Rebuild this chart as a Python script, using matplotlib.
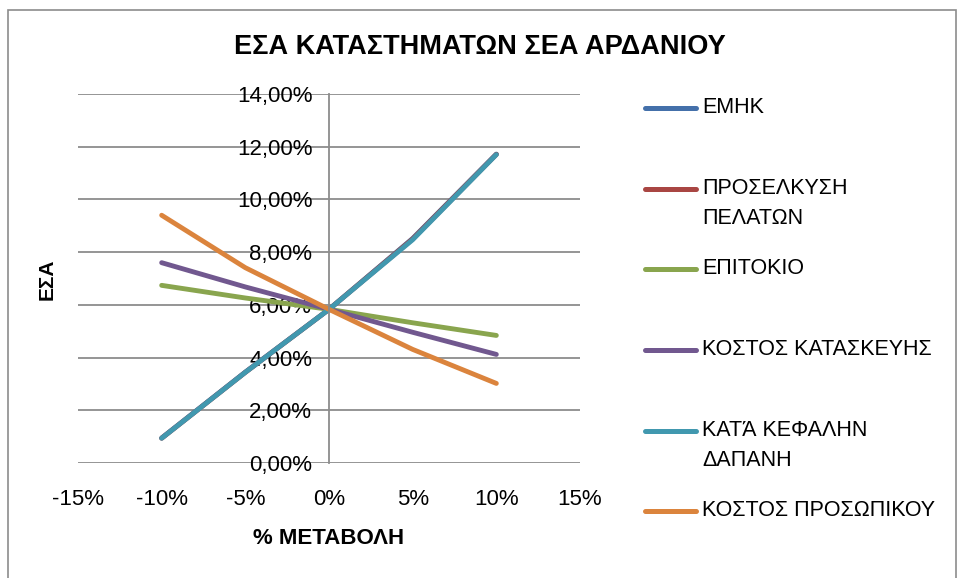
import matplotlib.pyplot as plt
from matplotlib.lines import Line2D
from matplotlib.patches import Rectangle
from matplotlib.ticker import FuncFormatter

plt.rcParams['font.family'] = ['Liberation Sans', 'DejaVu Sans']

# Δεδομένα
metavoli = [-10, -5, 0, 5, 10]
seires = ['ΕΜΗΚ', 'ΠΡΟΣΕΛΚΥΣΗ\nΠΕΛΑΤΩΝ', 'ΕΠΙΤΟΚΙΟ', 'ΚΟΣΤΟΣ ΚΑΤΑΣΚΕΥΗΣ',
          'ΚΑΤΆ ΚΕΦΑΛΗΝ\nΔΑΠΑΝΗ', 'ΚΟΣΤΟΣ ΠΡΟΣΩΠΙΚΟΥ']
emhk = [0.95, 3.45, 5.83, 8.52, 11.72]
proselkysi = [0.94, 3.44, 5.83, 8.50, 11.71]
epitokio = [6.74, 6.26, 5.83, 5.32, 4.84]
kostos_kat = [7.60, 6.68, 5.83, 4.96, 4.12]
kat_kefalin = [0.94, 3.44, 5.83, 8.47, 11.70]
kostos_pros = [9.40, 7.41, 5.83, 4.31, 3.02]
xticks = [-15, -10, -5, 0, 5, 10, 15]
yticks = [0, 2, 4, 6, 8, 10, 12, 14]

times = [emhk, proselkysi, epitokio, kostos_kat, kat_kefalin, kostos_pros]
xromata = ['#4470AA', '#A94643', '#89A54E', '#71588F', '#4198AF', '#DB843D']

fig = plt.figure(figsize=(9.59, 5.78), dpi=100)
fig.patches.append(Rectangle((8 / 959, -0.1), 948 / 959, 1.1 - 10 / 578,
                             transform=fig.transFigure, fill=False,
                             edgecolor='#8C8C8C', lw=1.2))
ax = fig.add_axes([78 / 959, 115 / 578, 502 / 959, 369 / 578])

for y, c in zip(times, xromata):
    ax.plot(metavoli, y, color=c, lw=3.5, solid_capstyle='round')

ax.set_xlim(-15, 15)
ax.set_ylim(0, 14)
ax.set_xticks(xticks)
ax.set_yticks(yticks)
ax.xaxis.set_major_formatter(FuncFormatter(lambda v, p: f'{v:.0f}%'))
ax.yaxis.set_major_formatter(FuncFormatter(lambda v, p: f'{v:.2f}%'.replace('.', ',')))
ax.grid(axis='y', color='#8C8C8C', lw=1.3)
ax.set_axisbelow(True)
for s in ['top', 'right', 'bottom']:
    ax.spines[s].set_visible(False)
ax.spines['left'].set_position(('data', 0))
ax.spines['left'].set_color('#8C8C8C')
ax.spines['left'].set_linewidth(1.3)
ax.tick_params(axis='both', length=0, labelsize=16)
ax.tick_params(axis='x', pad=19)
ax.tick_params(axis='y', pad=12)

fig.text(0.5, 1 - 47 / 578, 'ΕΣΑ ΚΑΤΑΣΤΗΜΑΤΩΝ ΣΕΑ ΑΡΔΑΝΙΟΥ', ha='center', va='center',
         fontsize=19.5, fontweight='bold')
fig.text(329 / 959, 1 - 539 / 578, '% ΜΕΤΑΒΟΛΗ', ha='center', va='center',
         fontsize=16, fontweight='bold')
fig.text(47 / 959, 1 - 279 / 578, 'ΕΣΑ', ha='center', va='center', rotation=90,
         fontsize=15, fontweight='bold')

# υπόμνημα
leg_y = [108, 189, 269, 350, 431, 511]
for name, c, yy in zip(seires, xromata, leg_y):
    fy = 1 - yy / 578
    fig.add_artist(Line2D([645 / 959, 696 / 959], [fy, fy], color=c, lw=3.6,
                          solid_capstyle='round', transform=fig.transFigure))
    fig.text(702 / 959, fy + 11 / 578, name, ha='left', va='top', fontsize=15.5,
             linespacing=1.55)

fig.savefig('out.png', dpi=100)
